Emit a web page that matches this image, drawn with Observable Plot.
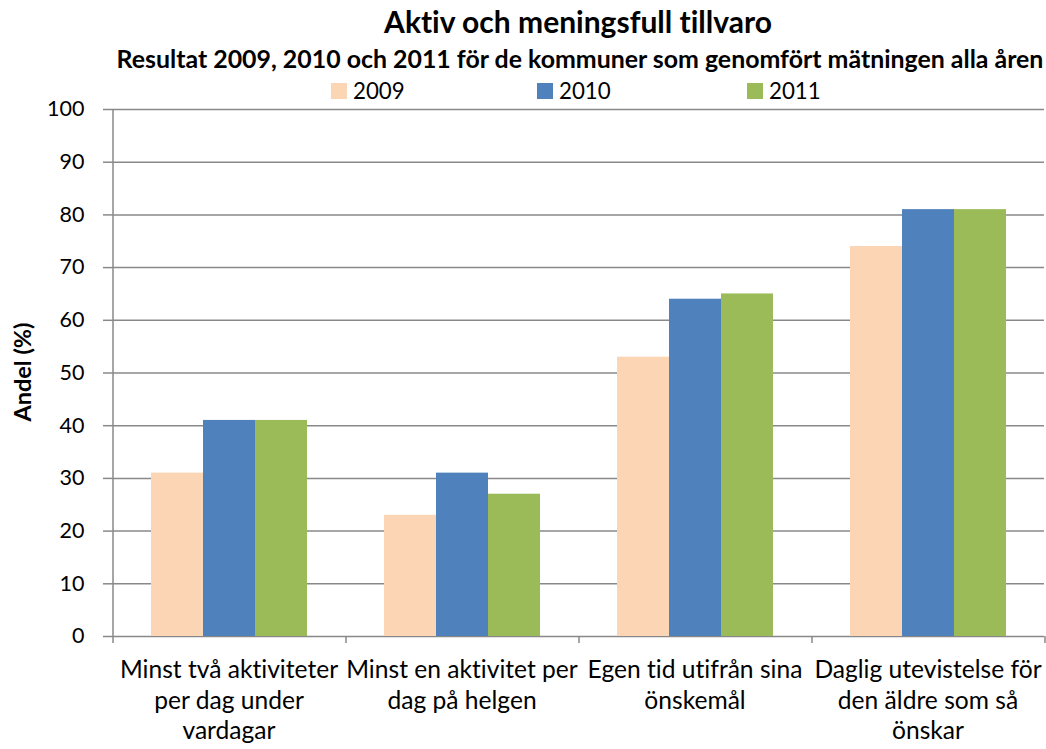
<!DOCTYPE html>
<html>
<head>
<meta charset="utf-8">
<script src="https://cdn.jsdelivr.net/npm/d3@7"></script>
<script src="https://cdn.jsdelivr.net/npm/@observablehq/plot@0.6"></script>
<style>
  body { margin: 0; background: #fff; font-family: Lato, "Open Sans", sans-serif; color: #000; font-variant-ligatures: none; }
  svg, svg text { font-variant-ligatures: none; }
  #wrap { position: relative; width: 1046px; height: 749px; overflow: hidden; }
  .hd { position: absolute; text-align: center; font-weight: bold; white-space: nowrap; line-height: 1; }
  #title { left: 378px; width: 400px; top: 6px; font-size: 30px; }
  #subtitle { left: 80px; width: 1000px; top: 46px; font-size: 24.9px; }
  #legend { position: absolute; top: 0; left: 0; width: 1046px; height: 110px; }
  .item { position: absolute; top: 80px; height: 23px; font-size: 22.3px; line-height: 1; }
  .sw { position: absolute; left: 0; top: 3px; width: 16px; height: 16px; }
  .lt { position: absolute; left: 22px; top: 0; }
  #ylabel { position: absolute; left: 23px; top: 372px; transform: translate(-50%, -50%) rotate(-90deg); font-weight: bold; font-size: 23.5px; white-space: nowrap; line-height: 1; }
  #chart { position: absolute; left: 0; top: 0; }
</style>
</head>
<body>
<div id="wrap">
  <div id="chart"></div>
  <div id="title" class="hd"></div>
  <div id="subtitle" class="hd"></div>
  <div id="legend"></div>
  <div id="ylabel"></div>
</div>
<script>
const titleText = "Aktiv och meningsfull tillvaro";
const subtitleText = "Resultat 2009, 2010 och 2011 för de kommuner som genomfört mätningen alla åren";
const yLabel = "Andel (%)";
const categories = [
  "Minst två aktiviteter\nper dag under\nvardagar",
  "Minst en aktivitet per\ndag på helgen",
  "Egen tid utifrån sina\nönskemål",
  "Daglig utevistelse för\nden äldre som så\nönskar"
];
const years = ["2009", "2010", "2011"];
const colors = ["#FCD5B5", "#4F81BD", "#9BBB59"];
const values2009 = [31, 23, 53, 74];
const values2010 = [41, 31, 64, 81];
const values2011 = [41, 27, 65, 81];
const yTicks = [0, 10, 20, 30, 40, 50, 60, 70, 80, 90, 100];

const series = [values2009, values2010, values2011];
const data = [];
categories.forEach((c, i) => years.forEach((y, j) => data.push({cat: c, year: y, value: series[j][i]})));

document.getElementById("title").textContent = titleText;
document.getElementById("subtitle").textContent = subtitleText;
document.getElementById("ylabel").textContent = yLabel;
const legendX = [331, 537, 747];
const legend = document.getElementById("legend");
years.forEach((y, j) => {
  const it = document.createElement("div");
  it.className = "item";
  it.style.left = legendX[j] + "px";
  it.innerHTML = `<div class="sw" style="background:${colors[j]}"></div><span class="lt">${y}</span>`;
  legend.appendChild(it);
});

const W = 1046, H = 749, mL = 112, mR = 2, mT = 109, mB = 113;
const fw = (W - mL - mR) / categories.length;
const po = 0.74;
const bw = fw / (years.length + 2 * po);
const edge = (po + 0.5) * bw;
const grid = "#898989";

const plot = Plot.plot({
  width: W, height: H,
  marginLeft: mL, marginRight: mR, marginTop: mT, marginBottom: mB,
  style: {fontFamily: "Lato, 'Open Sans', sans-serif", fontSize: "21.5px", color: "#000", background: "transparent"},
  fx: {domain: categories, padding: 0, label: null},
  x: {domain: years, paddingInner: 0, paddingOuter: po, axis: null},
  y: {domain: [0, 100], label: null},
  color: {domain: years, range: colors},
  marks: [
    Plot.ruleY(yTicks, {stroke: grid, strokeWidth: 1.5}),
    Plot.barY(data, {fx: "cat", x: "year", y: "value", fill: "year"}),
    Plot.axisY({ticks: yTicks, tickSize: 9, tickPadding: 19, stroke: grid, strokeWidth: 1.5, fontSize: 21.5, label: null}),
    Plot.axisFx({anchor: "bottom", tickSize: 0, tickPadding: 19, fontSize: 24.6, lineHeight: 1.26, label: null}),
    Plot.ruleX([categories[0]], {fx: d => d, x: () => years[0], dx: -edge, y1: 0, y2: 100, stroke: grid, strokeWidth: 1.5}),
    Plot.ruleX(categories, {fx: d => d, x: () => years[0], dx: -edge, y1: 0, y2: 0, insetBottom: -7, stroke: grid, strokeWidth: 1.5}),
    Plot.ruleX([categories[categories.length - 1]], {fx: d => d, x: () => years[years.length - 1], dx: edge, y1: 0, y2: 0, insetBottom: -7, stroke: grid, strokeWidth: 1.5})
  ]
});
document.getElementById("chart").appendChild(plot);
</script>
</body>
</html>
